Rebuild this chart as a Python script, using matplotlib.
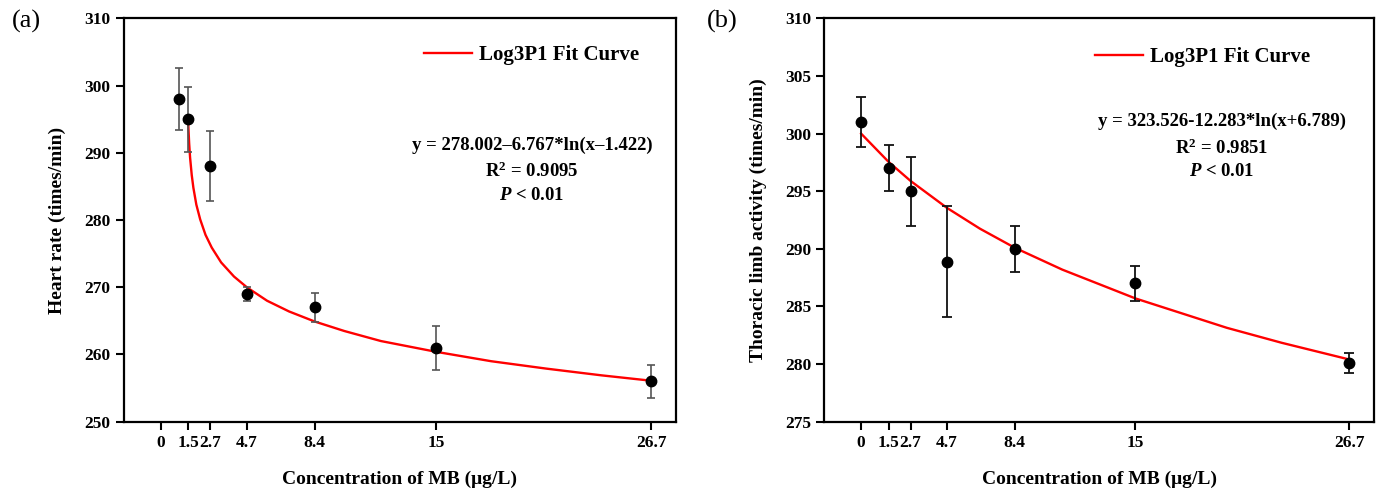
import matplotlib.pyplot as plt

plt.rcParams['font.family'] = ['Liberation Serif', 'DejaVu Serif']
plt.rcParams['font.weight'] = 'bold'
plt.rcParams['mathtext.fontset'] = 'custom'
plt.rcParams['mathtext.rm'] = 'Liberation Serif:bold'
plt.rcParams['mathtext.it'] = 'Liberation Serif:bold:italic'
plt.rcParams['mathtext.bf'] = 'Liberation Serif:bold'

# tick positions / labels (shared by both panels)
conc_ticks = [0, 1.5, 2.7, 4.7, 8.4, 15, 26.7]
conc_labels = ['0', '1.5', '2.7', '4.7', '8.4', '15', '26.7']

# panel (a): heart rate
a_x = [1.0, 1.5, 2.7, 4.7, 8.4, 15, 26.7]
a_y = [298, 295, 288, 269, 267, 261, 256]
a_err = [4.6, 4.8, 5.2, 1.0, 2.2, 3.3, 2.5]
a_fit_x = [1.5, 1.52, 1.56, 1.61, 1.7, 1.79, 1.95, 2.16, 2.45, 2.79, 3.3, 4.0,
           4.7, 5.8, 7.0, 8.4, 10, 12, 15, 18, 21, 24, 26.7]
a_fit_y = [295.3, 293.7, 291.4, 289.3, 286.7, 284.8, 282.3, 280.1, 277.8, 275.9,
           273.7, 271.6, 270.0, 268.0, 266.4, 264.9, 263.5, 262.0, 260.4, 259.0,
           257.9, 256.9, 256.1]

# panel (b): thoracic limb activity
b_x = [0, 1.5, 2.7, 4.7, 8.4, 15, 26.7]
b_y = [301.0, 297.0, 295.0, 288.9, 290.0, 287.0, 280.1]
b_err = [2.2, 2.0, 3.0, 4.8, 2.0, 1.5, 0.9]
b_fit_x = [0, 1.5, 2.7, 4.7, 6.5, 8.4, 11.0, 15.0, 20.0, 23.0, 26.7]
b_fit_y = [300.0, 297.55, 295.9, 293.55, 291.75, 290.1, 288.2, 285.7, 283.15,
           281.85, 280.4]

fig = plt.figure(figsize=(13.89, 4.93), dpi=100)
ax1 = fig.add_axes([0.0891, 0.1446, 0.3976, 0.818])
ax2 = fig.add_axes([0.5934, 0.1446, 0.3958, 0.818])


def style_axis(ax, xlim, ylim, yticks, ylabel):
    ax.set_xlim(*xlim)
    ax.set_ylim(*ylim)
    ax.set_xticks(conc_ticks)
    ax.set_xticklabels(conc_labels)
    ax.set_yticks(yticks)
    for s in ax.spines.values():
        s.set_linewidth(1.6)
    ax.tick_params(direction='out', length=5.5, width=1.5, labelsize=12.5, pad=4)
    for lab in ax.get_xticklabels() + ax.get_yticklabels():
        lab.set_fontweight('bold')
    ax.set_xlabel('Concentration of MB (μg/L)', fontsize=14, fontweight='bold', labelpad=14)
    ax.set_ylabel(ylabel, fontsize=14, fontweight='bold', labelpad=13)


def add_legend(ax, x, y):
    ax.legend(loc='center left', bbox_to_anchor=(x, y), frameon=False,
              prop={'size': 15, 'weight': 'bold'}, borderpad=0, borderaxespad=0,
              handlelength=2.3, handletextpad=0.35)


# ---- (a)
ax1.plot(a_fit_x, a_fit_y, color='red', lw=1.7, label='Log3P1 Fit Curve')
ax1.errorbar(a_x, a_y, yerr=a_err, fmt='o', color='black', ms=7.5,
             ecolor='#555555', elinewidth=1.2, capsize=3, capthick=1.2)
style_axis(ax1, (-2.0, 28.06), (250, 310), range(250, 311, 10),
           'Heart rate (times/min)')
add_legend(ax1, 0.544, 0.909)
eq_a = ['y = 278.002–6.767*ln(x–1.422)', r'R$^{2}$ = 0.9095', r'$P$ < 0.01']
for txt, yy in zip(eq_a, [0.686, 0.620, 0.562]):
    ax1.text(0.739, yy, txt, transform=ax1.transAxes, ha='center', va='center',
             fontsize=13.5, fontweight='bold')
fig.text(0.0086, 0.98, '(a)', fontsize=19, fontweight='normal', va='top')

# ---- (b)
ax2.plot(b_fit_x, b_fit_y, color='red', lw=1.7, label='Log3P1 Fit Curve')
ax2.errorbar(b_x, b_y, yerr=b_err, fmt='o', color='black', ms=7.5,
             ecolor='#111111', elinewidth=1.3, capsize=3.3, capthick=1.3)
style_axis(ax2, (-2.02, 28.05), (275, 310), range(275, 311, 5),
           'Thoracic limb activity (times/min)')
add_legend(ax2, 0.492, 0.904)
eq_b = ['y = 323.526-12.283*ln(x+6.789)', r'R$^{2}$ = 0.9851', r'$P$ < 0.01']
for txt, yy in zip(eq_b, [0.744, 0.678, 0.620]):
    ax2.text(0.723, yy, txt, transform=ax2.transAxes, ha='center', va='center',
             fontsize=13.5, fontweight='bold')
fig.text(0.5088, 0.98, '(b)', fontsize=19, fontweight='normal', va='top')

fig.savefig('out.png', dpi=100)
